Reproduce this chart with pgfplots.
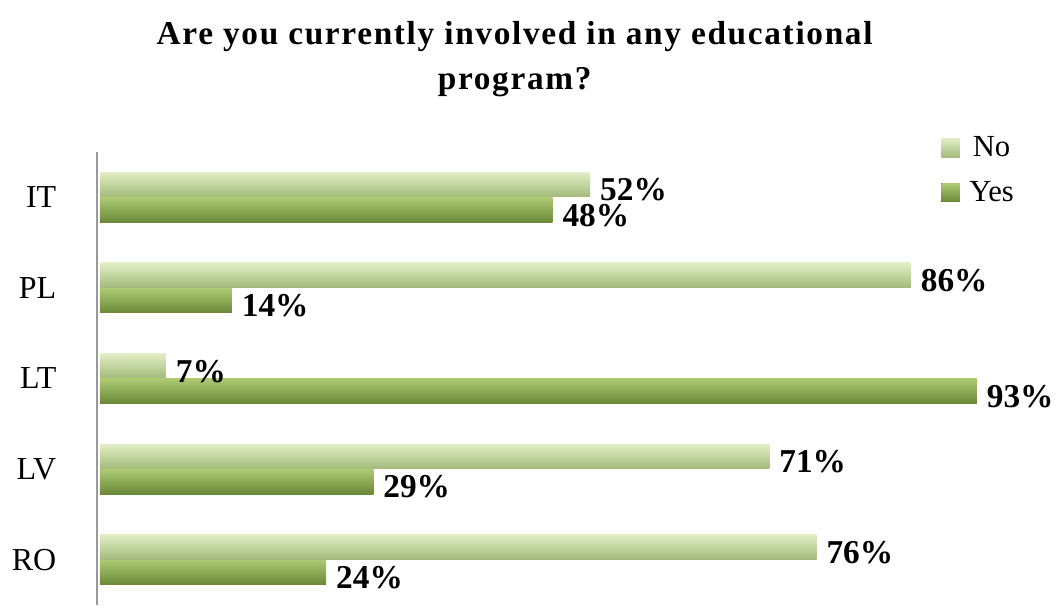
\documentclass[border=0pt]{standalone}
\usepackage{pgfplots}
\pgfplotsset{compat=1.18}
\usepackage{fontspec}
\setmainfont{Liberation Serif}
\newfontfamily\titlefont[LetterSpace=5]{Liberation Serif}
\definecolor{noTop}{HTML}{E2EEC6}
\definecolor{noMid}{HTML}{CFE2A4}
\definecolor{noBot}{HTML}{A2BA7A}
\definecolor{yesTop}{HTML}{ACC972}
\definecolor{yesMid}{HTML}{94B656}
\definecolor{yesBot}{HTML}{6A8838}
\begin{document}
\begin{tikzpicture}
\useasboundingbox (0,0) rectangle (795pt,457.5pt);
\node[align=center,font=\titlefont\fontsize{25}{34}\selectfont\bfseries] at (386pt,413pt)
  {Are you currently involved in any educational\\program?};
\begin{axis}[
  at={(72.75pt,3.75pt)}, anchor=south west,
  scale only axis, width=707.25pt, height=339.75pt,
  xmin=-0.3, xmax=99.7, ymin=-0.5, ymax=4.5,
  axis x line=none,
  axis y line*=left,
  y axis line style={-, draw=gray!80, line width=1.2pt},
  ytick={0,1,2,3,4},
  yticklabels={RO,LV,LT,PL,IT},
  major tick length=0pt,
  yticklabel style={font=\fontsize{24}{28}\selectfont, xshift=-27pt},
  xbar, bar width=18.5pt,
  point meta=x,
  /pgf/number format/assume math mode=true,
  nodes near coords={\pgfmathprintnumber{\pgfplotspointmeta}\%},
  nodes near coords style={font=\fontsize{25}{28}\selectfont\bfseries, anchor=west, yshift=-4pt, xshift=4pt},
  legend style={at={(0.895,1.04)}, anchor=north west, draw=none, fill=none,
    font=\fontsize{23}{26}\selectfont, row sep=13pt, inner sep=0pt},
  legend image code/.code={\fill[#1] (0pt,-7pt) rectangle (14pt,7pt); \path (19pt,0pt);},
  noBar/.style={draw=none, bar shift=9.5pt, top color=noTop, middle color=noMid, bottom color=noBot},
  yesBar/.style={draw=none, bar shift=-9.5pt, top color=yesTop, middle color=yesMid, bottom color=yesBot},
  clip=false,
]
\addplot[noBar] coordinates {(52,4)};
\addlegendentry{No}
\addplot[yesBar] coordinates {(48,4)};
\addlegendentry{Yes}
\addplot[noBar, forget plot] coordinates {(86,3)};
\addplot[yesBar, forget plot] coordinates {(14,3)};
\addplot[noBar, forget plot] coordinates {(7,2)};
\addplot[yesBar, forget plot] coordinates {(93,2)};
\addplot[noBar, forget plot] coordinates {(71,1)};
\addplot[yesBar, forget plot] coordinates {(29,1)};
\addplot[noBar, forget plot] coordinates {(76,0)};
\addplot[yesBar, forget plot] coordinates {(24,0)};
\end{axis}
\end{tikzpicture}
\end{document}
